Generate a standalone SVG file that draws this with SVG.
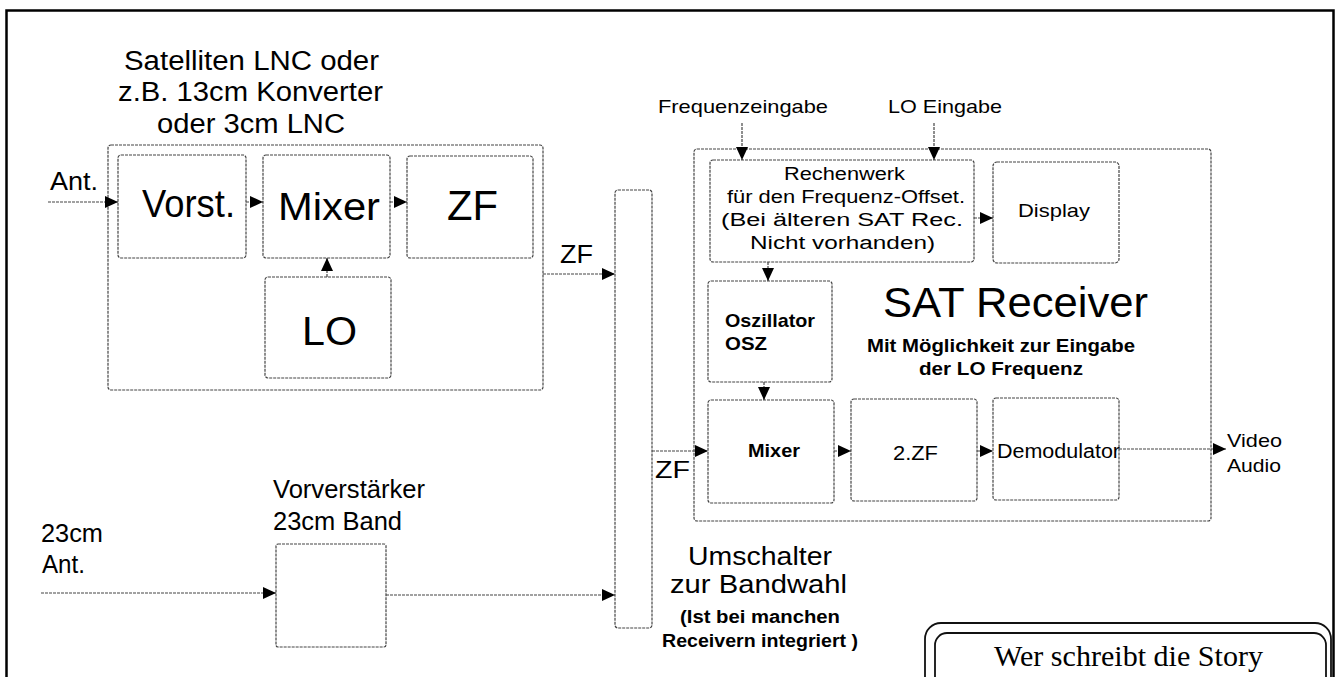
<svg xmlns="http://www.w3.org/2000/svg" width="1337" height="677" viewBox="0 0 1337 677">
<style>
.box{fill:none;stroke:#444;stroke-width:1.2;stroke-dasharray:3 1}
.con{fill:none;stroke:#444;stroke-width:1.2;stroke-dasharray:3 1}
text{font-family:"Liberation Sans",Arial,sans-serif;fill:#000}
.b{font-weight:bold}
.serif{font-family:"Liberation Serif","Times New Roman",serif}
</style>
<defs>
<marker id="ah" viewBox="0 0 13 12" refX="13" refY="6" markerWidth="13" markerHeight="12" markerUnits="userSpaceOnUse" orient="auto">
<path d="M0,0 L13,6 L0,12 z" fill="#000"/>
</marker>
</defs>
<rect width="1337" height="677" fill="#fff"/>
<rect id="frame" x="6.5" y="10.5" width="1327" height="720" fill="none" stroke="#000" stroke-width="2.5"/>

<g id="lnc-title">
<text x="124" y="70" font-size="27" textLength="255" lengthAdjust="spacingAndGlyphs">Satelliten LNC oder</text>
<text x="118" y="101" font-size="27" textLength="265" lengthAdjust="spacingAndGlyphs">z.B. 13cm Konverter</text>
<text x="157" y="133" font-size="27" textLength="188" lengthAdjust="spacingAndGlyphs">oder 3cm LNC</text>
</g>
<g id="ant1"><text x="50" y="190" font-size="26" textLength="48" lengthAdjust="spacingAndGlyphs">Ant.</text></g>
<g id="lnc"><rect class="box" x="108" y="145" width="435" height="245" rx="3"/></g>
<g id="vorst"><rect class="box" x="118" y="155" width="128" height="103" rx="3"/>
<text x="142" y="217" font-size="38" textLength="93" lengthAdjust="spacingAndGlyphs">Vorst.</text></g>
<g id="mixer1"><rect class="box" x="263" y="155" width="127" height="103" rx="3"/>
<text x="278" y="220" font-size="38" textLength="102" lengthAdjust="spacingAndGlyphs">Mixer</text></g>
<g id="zf1"><rect class="box" x="407" y="156" width="126" height="102" rx="3"/>
<text x="447" y="220" font-size="43" textLength="51" lengthAdjust="spacingAndGlyphs">ZF</text></g>
<g id="lo"><rect class="box" x="265" y="277" width="126" height="101" rx="3"/>
<text x="302" y="345" font-size="41" textLength="55" lengthAdjust="spacingAndGlyphs">LO</text></g>
<g id="zf-label1"><text x="560" y="263" font-size="25" textLength="33" lengthAdjust="spacingAndGlyphs">ZF</text></g>

<g id="switch"><rect class="box" x="615" y="190" width="37" height="438" rx="3"/></g>
<g id="switch-label">
<text x="688" y="565" font-size="26" textLength="144" lengthAdjust="spacingAndGlyphs">Umschalter</text>
<text x="670" y="593" font-size="26" textLength="177" lengthAdjust="spacingAndGlyphs">zur Bandwahl</text>
<text x="680" y="623" font-size="18" class="b" textLength="160" lengthAdjust="spacingAndGlyphs">(Ist bei manchen</text>
<text x="662" y="647" font-size="18" class="b" textLength="196" lengthAdjust="spacingAndGlyphs">Receivern integriert )</text>
</g>

<g id="inputs">
<text x="658" y="113" font-size="19" textLength="170" lengthAdjust="spacingAndGlyphs">Frequenzeingabe</text>
<text x="888" y="113" font-size="19" textLength="114" lengthAdjust="spacingAndGlyphs">LO Eingabe</text>
</g>
<g id="sat"><rect class="box" x="694" y="149" width="517" height="372" rx="3"/>
<text x="883" y="317" font-size="42" textLength="265" lengthAdjust="spacingAndGlyphs">SAT Receiver</text>
<text x="1001" y="352" font-size="19" class="b" text-anchor="middle" textLength="268" lengthAdjust="spacingAndGlyphs">Mit Möglichkeit zur Eingabe</text>
<text x="1001" y="375" font-size="19" class="b" text-anchor="middle" textLength="164" lengthAdjust="spacingAndGlyphs">der LO Frequenz</text>
</g>
<g id="rechenwerk"><rect class="box" x="710" y="160" width="264" height="102" rx="3"/>
<text x="784" y="180" font-size="18" textLength="121" lengthAdjust="spacingAndGlyphs">Rechenwerk</text>
<text x="727" y="203" font-size="18" textLength="238" lengthAdjust="spacingAndGlyphs">für den Frequenz-Offset.</text>
<text x="721" y="226" font-size="18" textLength="242" lengthAdjust="spacingAndGlyphs">(Bei älteren SAT Rec.</text>
<text x="750" y="249" font-size="18" textLength="185" lengthAdjust="spacingAndGlyphs">Nicht vorhanden)</text>
</g>
<g id="display"><rect class="box" x="993" y="162" width="126" height="101" rx="4"/>
<text x="1018" y="217" font-size="19" textLength="72" lengthAdjust="spacingAndGlyphs">Display</text></g>
<g id="osz"><rect class="box" x="708" y="281" width="124" height="101" rx="3"/>
<text x="725" y="327" font-size="19" class="b" textLength="90" lengthAdjust="spacingAndGlyphs">Oszillator</text>
<text x="725" y="350" font-size="19" class="b" textLength="42" lengthAdjust="spacingAndGlyphs">OSZ</text></g>
<g id="mixer2"><rect class="box" x="708" y="400" width="126" height="103" rx="3"/>
<text x="748" y="457" font-size="19" class="b" textLength="52" lengthAdjust="spacingAndGlyphs">Mixer</text></g>
<g id="zf2"><rect class="box" x="851" y="399" width="126" height="102" rx="3"/>
<text x="893" y="460" font-size="20" textLength="45" lengthAdjust="spacingAndGlyphs">2.ZF</text></g>
<g id="demod"><rect class="box" x="993" y="398" width="126" height="102" rx="3"/>
<text x="997" y="458" font-size="20" textLength="123" lengthAdjust="spacingAndGlyphs">Demodulator</text></g>
<g id="output"><text x="1227" y="447" font-size="19" textLength="55" lengthAdjust="spacingAndGlyphs">Video</text>
<text x="1227" y="472" font-size="19" textLength="54" lengthAdjust="spacingAndGlyphs">Audio</text></g>
<g id="zf-label2"><text x="655" y="478" font-size="24" textLength="35" lengthAdjust="spacingAndGlyphs">ZF</text></g>

<g id="ant23">
<text x="41" y="542" font-size="25" textLength="62" lengthAdjust="spacingAndGlyphs">23cm</text>
<text x="42" y="573" font-size="25" textLength="43" lengthAdjust="spacingAndGlyphs">Ant.</text>
</g>
<g id="vorverst"><text x="273" y="498" font-size="25" textLength="152" lengthAdjust="spacingAndGlyphs">Vorverstärker</text>
<text x="273" y="530" font-size="25" textLength="129" lengthAdjust="spacingAndGlyphs">23cm Band</text>
<rect class="box" x="276" y="544" width="110" height="103" rx="2"/></g>

<g id="story">
<rect x="925" y="623" width="406" height="120" rx="16" fill="none" stroke="#111" stroke-width="1.8"/>
<rect x="935" y="633" width="391" height="110" rx="12" fill="none" stroke="#111" stroke-width="1.8"/>
<text class="serif" x="994" y="666" font-size="30" textLength="269" lengthAdjust="spacingAndGlyphs">Wer schreibt die Story</text>
</g>

<g id="connectors">
<path class="con" d="M48,202 H118" marker-end="url(#ah)"/>
<path class="con" d="M246,202 H263" marker-end="url(#ah)"/>
<path class="con" d="M390,202 H407" marker-end="url(#ah)"/>
<path class="con" d="M327,277 V258" marker-end="url(#ah)"/>
<path class="con" d="M543,274 H615" marker-end="url(#ah)"/>
<path class="con" d="M742,123 V160" marker-end="url(#ah)"/>
<path class="con" d="M934,123 V160" marker-end="url(#ah)"/>
<path class="con" d="M974,218 H993" marker-end="url(#ah)"/>
<path class="con" d="M768,262 V281" marker-end="url(#ah)"/>
<path class="con" d="M764,382 V400" marker-end="url(#ah)"/>
<path class="con" d="M652,451 H708" marker-end="url(#ah)"/>
<path class="con" d="M834,451 H851" marker-end="url(#ah)"/>
<path class="con" d="M977,451 H993" marker-end="url(#ah)"/>
<path class="con" d="M1119,449 H1226" marker-end="url(#ah)"/>
<path class="con" d="M41,593 H276" marker-end="url(#ah)"/>
<path class="con" d="M386,595 H615" marker-end="url(#ah)"/>
</g>
</svg>
